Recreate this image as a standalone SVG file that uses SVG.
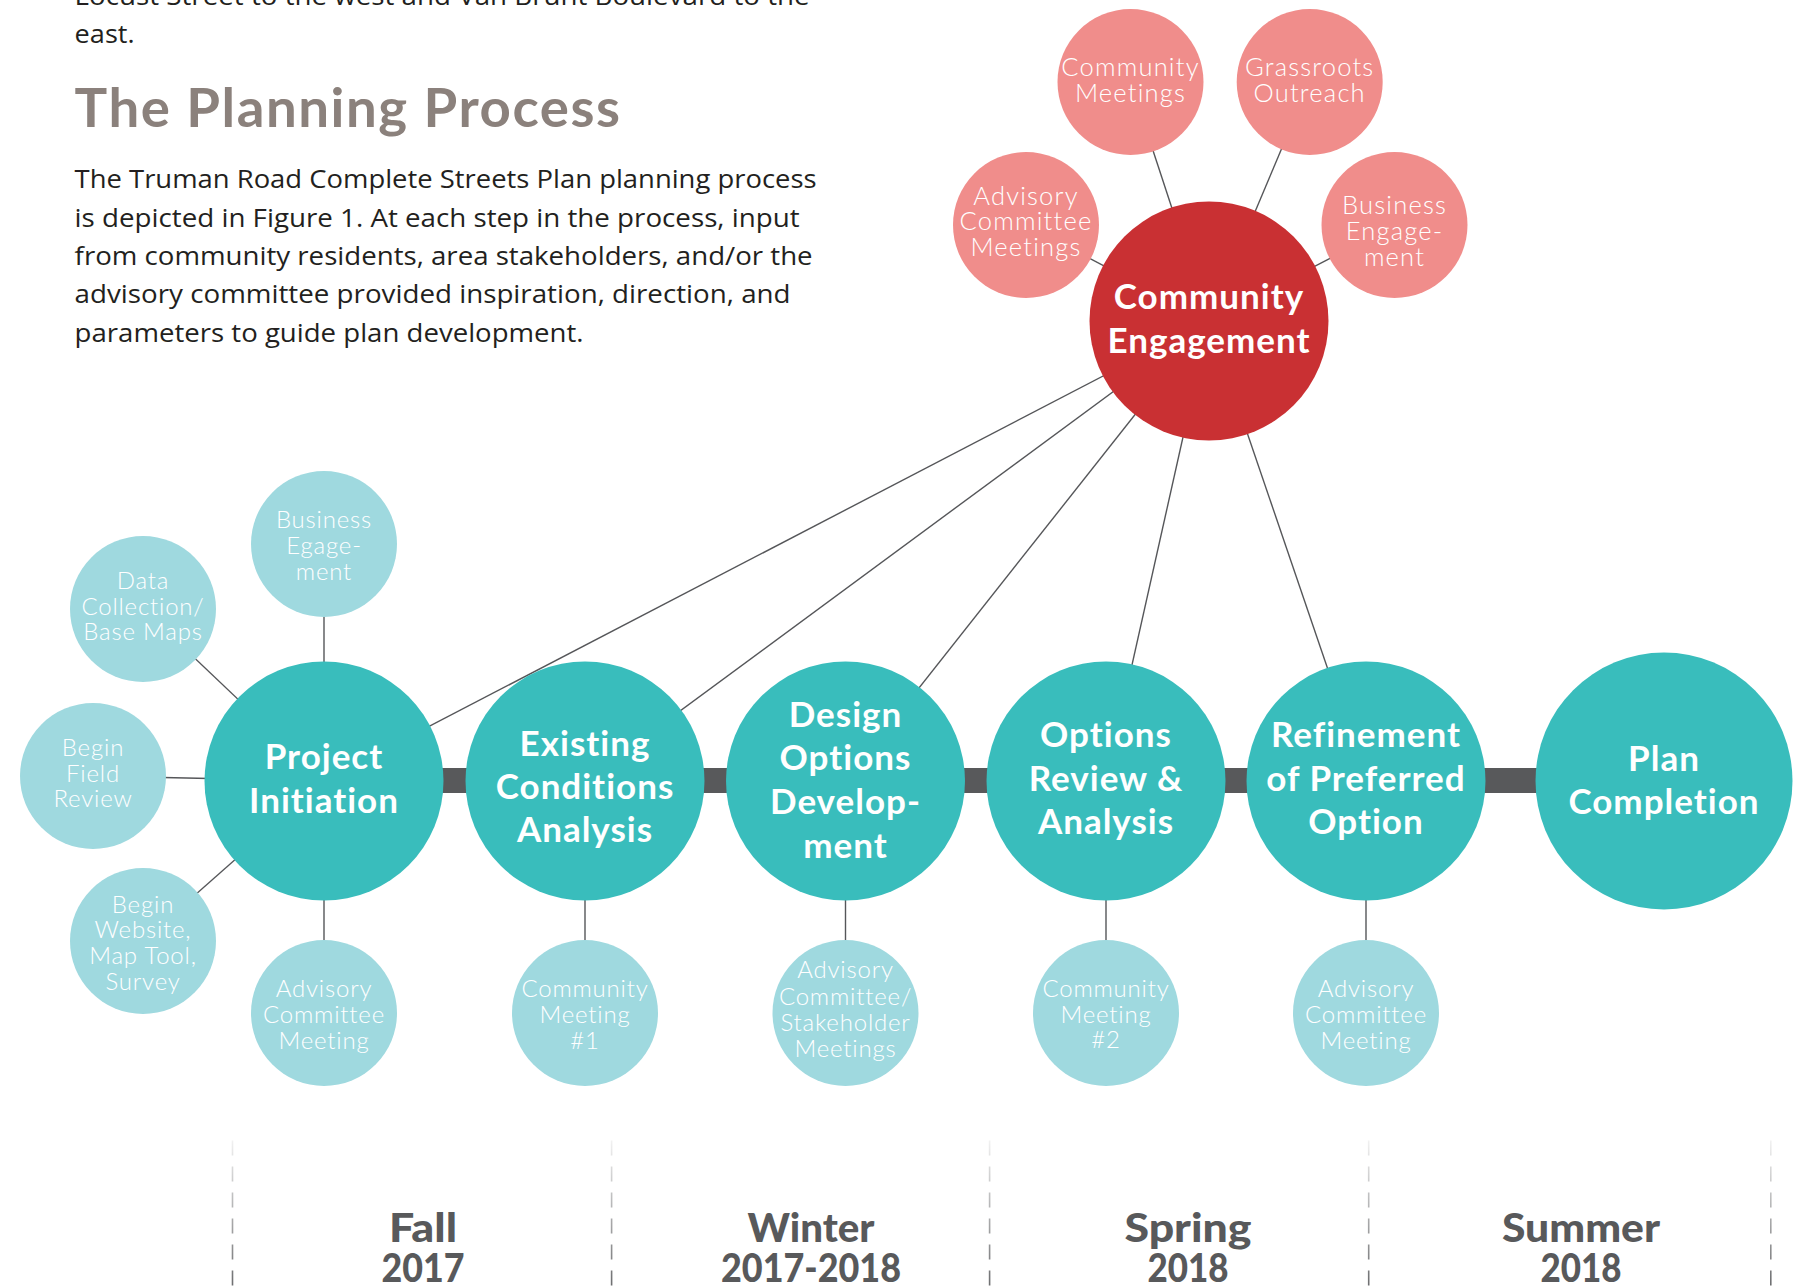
<svg xmlns="http://www.w3.org/2000/svg" width="1796" height="1286" viewBox="0 0 1796 1286">
  <defs>
    <style>
      .body { font-family: "Open Sans", "Noto Sans", sans-serif; font-size: 25px; fill: #231f20; }
      .heading { font-family: Lato, "Noto Sans", sans-serif; font-weight: 700; font-size: 53px; fill: #8b817c; letter-spacing: 1.5px; }
      .conn { stroke: #555659; stroke-width: 1.4; fill: none; }
      .bar { fill: #58595b; }
      .step { fill: #39bdbc; }
      .sat { fill: #9fd9df; }
      .hub { fill: #c93033; }
      .spoke { fill: #f08d8b; }
      .lbl-main { font-family: Lato, "Noto Sans", sans-serif; font-weight: 700; font-size: 35px; letter-spacing: 1px; fill: #ffffff; text-anchor: middle; }
      .lbl-sat { font-family: Lato, "Noto Sans", sans-serif; font-weight: 300; font-size: 24px; letter-spacing: 0.8px; fill: #ffffff; text-anchor: middle; }
      .lbl-spoke { font-family: Lato, "Noto Sans", sans-serif; font-weight: 300; font-size: 25.5px; letter-spacing: 1.2px; fill: #ffffff; text-anchor: middle; }
      .season { font-family: Lato, "Noto Sans", sans-serif; font-weight: 900; font-size: 39px; fill: #58595b; text-anchor: middle; }
      .divider { stroke: url(#dashFade); stroke-width: 1.6; stroke-dasharray: 15 11; fill: none; }
    </style>
    <linearGradient id="dashFade" gradientUnits="userSpaceOnUse" x1="0" y1="1140" x2="0" y2="1286">
      <stop offset="0" stop-color="#f2f2f2"/>
      <stop offset="1" stop-color="#6d6e70"/>
    </linearGradient>
  </defs>

  <rect width="1796" height="1286" fill="#ffffff"/>

  <!-- Introductory copy -->
  <g id="intro">
    <text class="body" x="74.6" y="5" textLength="735" lengthAdjust="spacingAndGlyphs">Locust Street to the west and Van Brunt Boulevard to the</text>
    <text class="body" x="74.6" y="43" textLength="60" lengthAdjust="spacingAndGlyphs">east.</text>
    <text class="heading" x="74.6" y="127" textLength="547" lengthAdjust="spacingAndGlyphs">The Planning Process</text>
    <text class="body" x="74.6" y="188" textLength="742" lengthAdjust="spacingAndGlyphs">The Truman Road Complete Streets Plan planning process</text>
    <text class="body" x="74.6" y="227" textLength="725" lengthAdjust="spacingAndGlyphs">is depicted in Figure 1. At each step in the process, input</text>
    <text class="body" x="74.6" y="265" textLength="738" lengthAdjust="spacingAndGlyphs">from community residents, area stakeholders, and/or the</text>
    <text class="body" x="74.6" y="303" textLength="716" lengthAdjust="spacingAndGlyphs">advisory committee provided inspiration, direction, and</text>
    <text class="body" x="74.6" y="342" textLength="509" lengthAdjust="spacingAndGlyphs">parameters to guide plan development.</text>
  </g>

  <!-- Connectors: centre-to-centre lines, hidden under the circles -->
  <g id="connectors">
    <line class="conn" x1="1209" y1="321" x2="324" y2="781"/>
    <line class="conn" x1="1209" y1="321" x2="585" y2="781"/>
    <line class="conn" x1="1209" y1="321" x2="845.5" y2="781"/>
    <line class="conn" x1="1209" y1="321" x2="1106" y2="781"/>
    <line class="conn" x1="1209" y1="321" x2="1366" y2="781"/>
    <line class="conn" x1="1209" y1="321" x2="1026" y2="225"/>
    <line class="conn" x1="1209" y1="321" x2="1130.5" y2="82"/>
    <line class="conn" x1="1209" y1="321" x2="1309.7" y2="82"/>
    <line class="conn" x1="1209" y1="321" x2="1394.5" y2="225"/>
    <line class="conn" x1="324" y1="781" x2="324" y2="544"/>
    <line class="conn" x1="324" y1="781" x2="143" y2="609"/>
    <line class="conn" x1="324" y1="781" x2="93" y2="776"/>
    <line class="conn" x1="324" y1="781" x2="143" y2="941"/>
    <line class="conn" x1="324" y1="781" x2="324" y2="1013"/>
    <line class="conn" x1="585" y1="781" x2="585" y2="1013"/>
    <line class="conn" x1="845.5" y1="781" x2="845.5" y2="1013"/>
    <line class="conn" x1="1106" y1="781" x2="1106" y2="1013"/>
    <line class="conn" x1="1366" y1="781" x2="1366" y2="1013"/>
    <rect class="bar" x="324" y="768" width="1340" height="25"/>
  </g>

  <!-- Community engagement hub and its spokes -->
  <g id="community-engagement">
    <circle class="hub" cx="1209" cy="321" r="119.5"/>
    <text class="lbl-main" x="1209" y="309">Community</text>
    <text class="lbl-main" x="1209" y="353">Engagement</text>
  </g>
  <g id="ce-advisory-meetings">
    <circle class="spoke" cx="1026" cy="225" r="73"/>
    <text class="lbl-spoke" x="1026" y="205">Advisory</text>
    <text class="lbl-spoke" x="1026" y="230">Committee</text>
    <text class="lbl-spoke" x="1026" y="256">Meetings</text>
  </g>
  <g id="ce-community-meetings">
    <circle class="spoke" cx="1130.5" cy="82" r="73"/>
    <text class="lbl-spoke" x="1130.5" y="76">Community</text>
    <text class="lbl-spoke" x="1130.5" y="101.5">Meetings</text>
  </g>
  <g id="ce-grassroots">
    <circle class="spoke" cx="1309.7" cy="82" r="73"/>
    <text class="lbl-spoke" x="1309.7" y="76">Grassroots</text>
    <text class="lbl-spoke" x="1309.7" y="101.5">Outreach</text>
  </g>
  <g id="ce-business">
    <circle class="spoke" cx="1394.5" cy="225" r="73"/>
    <text class="lbl-spoke" x="1394.5" y="214">Business</text>
    <text class="lbl-spoke" x="1394.5" y="240">Engage-</text>
    <text class="lbl-spoke" x="1394.5" y="265.5">ment</text>
  </g>

  <!-- Process steps -->
  <g id="step-project-initiation">
    <circle class="step" cx="324" cy="781" r="119.5"/>
    <text class="lbl-main" x="324" y="769">Project</text>
    <text class="lbl-main" x="324" y="813">Initiation</text>
  </g>
  <g id="step-existing-conditions">
    <circle class="step" cx="585" cy="781" r="119.5"/>
    <text class="lbl-main" x="585" y="756">Existing</text>
    <text class="lbl-main" x="585" y="799">Conditions</text>
    <text class="lbl-main" x="585" y="842">Analysis</text>
  </g>
  <g id="step-design-options">
    <circle class="step" cx="845.5" cy="781" r="119.5"/>
    <text class="lbl-main" x="845.5" y="727">Design</text>
    <text class="lbl-main" x="845.5" y="770">Options</text>
    <text class="lbl-main" x="845.5" y="814">Develop-</text>
    <text class="lbl-main" x="845.5" y="858">ment</text>
  </g>
  <g id="step-options-review">
    <circle class="step" cx="1106" cy="781" r="119.5"/>
    <text class="lbl-main" x="1106" y="747">Options</text>
    <text class="lbl-main" x="1106" y="791">Review &amp;</text>
    <text class="lbl-main" x="1106" y="834">Analysis</text>
  </g>
  <g id="step-refinement">
    <circle class="step" cx="1366" cy="781" r="119.5"/>
    <text class="lbl-main" x="1366" y="747">Refinement</text>
    <text class="lbl-main" x="1366" y="791">of Preferred</text>
    <text class="lbl-main" x="1366" y="834">Option</text>
  </g>
  <g id="step-plan-completion">
    <circle class="step" cx="1664" cy="781" r="128.5"/>
    <text class="lbl-main" x="1664" y="771">Plan</text>
    <text class="lbl-main" x="1664" y="814">Completion</text>
  </g>

  <!-- Supporting tasks -->
  <g id="task-business-egagement">
    <circle class="sat" cx="324" cy="544" r="73"/>
    <text class="lbl-sat" x="324" y="528">Business</text>
    <text class="lbl-sat" x="324" y="554">Egage-</text>
    <text class="lbl-sat" x="324" y="580">ment</text>
  </g>
  <g id="task-data-collection">
    <circle class="sat" cx="143" cy="609" r="73"/>
    <text class="lbl-sat" x="143" y="589">Data</text>
    <text class="lbl-sat" x="143" y="615">Collection/</text>
    <text class="lbl-sat" x="143" y="640">Base Maps</text>
  </g>
  <g id="task-field-review">
    <circle class="sat" cx="93" cy="776" r="73"/>
    <text class="lbl-sat" x="93" y="756">Begin</text>
    <text class="lbl-sat" x="93" y="782">Field</text>
    <text class="lbl-sat" x="93" y="807">Review</text>
  </g>
  <g id="task-website">
    <circle class="sat" cx="143" cy="941" r="73"/>
    <text class="lbl-sat" x="143" y="913">Begin</text>
    <text class="lbl-sat" x="143" y="938">Website,</text>
    <text class="lbl-sat" x="143" y="964">Map Tool,</text>
    <text class="lbl-sat" x="143" y="990">Survey</text>
  </g>
  <g id="task-advisory-1">
    <circle class="sat" cx="324" cy="1013" r="73"/>
    <text class="lbl-sat" x="324" y="997">Advisory</text>
    <text class="lbl-sat" x="324" y="1023">Committee</text>
    <text class="lbl-sat" x="324" y="1049">Meeting</text>
  </g>
  <g id="task-community-meeting-1">
    <circle class="sat" cx="585" cy="1013" r="73"/>
    <text class="lbl-sat" x="585" y="997">Community</text>
    <text class="lbl-sat" x="585" y="1023">Meeting</text>
    <text class="lbl-sat" x="585" y="1049">#1</text>
  </g>
  <g id="task-stakeholder-meetings">
    <circle class="sat" cx="845.5" cy="1013" r="73"/>
    <text class="lbl-sat" x="845.5" y="978">Advisory</text>
    <text class="lbl-sat" x="845.5" y="1005">Committee/</text>
    <text class="lbl-sat" x="845.5" y="1031">Stakeholder</text>
    <text class="lbl-sat" x="845.5" y="1057">Meetings</text>
  </g>
  <g id="task-community-meeting-2">
    <circle class="sat" cx="1106" cy="1013" r="73"/>
    <text class="lbl-sat" x="1106" y="997">Community</text>
    <text class="lbl-sat" x="1106" y="1023">Meeting</text>
    <text class="lbl-sat" x="1106" y="1048">#2</text>
  </g>
  <g id="task-advisory-2">
    <circle class="sat" cx="1366" cy="1013" r="73"/>
    <text class="lbl-sat" x="1366" y="997">Advisory</text>
    <text class="lbl-sat" x="1366" y="1023">Committee</text>
    <text class="lbl-sat" x="1366" y="1049">Meeting</text>
  </g>

  <!-- Timeline seasons -->
  <g id="timeline">
    <line class="divider" x1="232.5" y1="1140.5" x2="232.5" y2="1286"/>
    <line class="divider" x1="611.6" y1="1140.5" x2="611.6" y2="1286"/>
    <line class="divider" x1="989.6" y1="1140.5" x2="989.6" y2="1286"/>
    <line class="divider" x1="1368.7" y1="1140.5" x2="1368.7" y2="1286"/>
    <line class="divider" x1="1770.8" y1="1140.5" x2="1770.8" y2="1286"/>
    <text class="season" x="423" y="1242" textLength="68" lengthAdjust="spacingAndGlyphs">Fall</text>
    <text class="season" x="423" y="1282" textLength="83" lengthAdjust="spacingAndGlyphs">2017</text>
    <text class="season" x="811" y="1242" textLength="127" lengthAdjust="spacingAndGlyphs">Winter</text>
    <text class="season" x="811" y="1282" textLength="180" lengthAdjust="spacingAndGlyphs">2017-2018</text>
    <text class="season" x="1188" y="1242" textLength="127" lengthAdjust="spacingAndGlyphs">Spring</text>
    <text class="season" x="1188" y="1282" textLength="81" lengthAdjust="spacingAndGlyphs">2018</text>
    <text class="season" x="1581" y="1242" textLength="158" lengthAdjust="spacingAndGlyphs">Summer</text>
    <text class="season" x="1581" y="1282" textLength="81" lengthAdjust="spacingAndGlyphs">2018</text>
  </g>
</svg>
